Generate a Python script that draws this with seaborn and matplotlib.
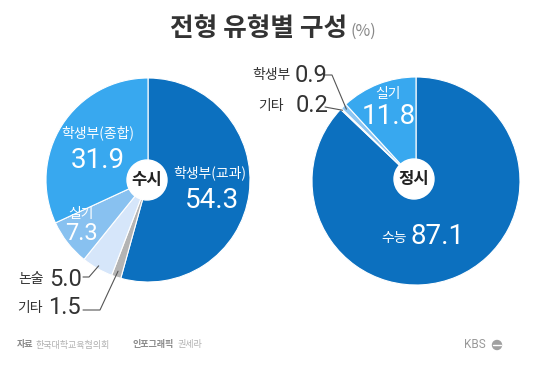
import numpy as np
import seaborn as sns
import matplotlib.pyplot as plt
from matplotlib.patches import Circle

# data
susi_labels = ['학생부(교과)', '기타', '논술', '실기', '학생부(종합)']
susi_values = [54.3, 1.5, 5.0, 7.3, 31.9]
jeongsi_labels = ['수능', '기타', '학생부', '실기']
jeongsi_values = [87.1, 0.2, 0.9, 11.8]

susi_colors = ['#0c70bf', '#b4b4b4', '#d6e6fa', '#88c1f0', '#38a8ef']
jeongsi_colors = ['#0c70bf', '#b4b4b4', '#8cc6f3', '#38a8ef']

sns.set_theme(style='white')
plt.rcParams['font.family'] = ['Noto Sans CJK KR', 'DejaVu Sans']

W, H = 540, 365
fig = plt.figure(figsize=(5.4, 3.65), dpi=100)
ax = fig.add_axes([0, 0, 1, 1])


def Y(y):
    return H - y


NUM = dict(family=['Roboto', 'DejaVu Sans'], fontweight='normal')
ring = dict(edgecolor='white', linewidth=0.8)

left_c, left_r = (148, 180), 102
right_c, right_r = (416, 181), 104

ax.pie(susi_values, colors=susi_colors, startangle=90, counterclock=False,
       center=(left_c[0], Y(left_c[1])), radius=left_r, wedgeprops=ring)
ax.pie(jeongsi_values, colors=jeongsi_colors, startangle=90, counterclock=False,
       center=(right_c[0], Y(right_c[1])), radius=right_r, wedgeprops=ring)

ax.add_patch(Circle((147, Y(180)), 20, color='white', zorder=5))
ax.add_patch(Circle((414, Y(179)), 20, color='white', zorder=5))
ax.text(147, Y(180), '수시', ha='center', va='center', fontsize=12,
        fontweight='bold', color='#222222', zorder=6)
ax.text(414, Y(179), '정시', ha='center', va='center', fontsize=12,
        fontweight='bold', color='#222222', zorder=6)


def wedge_point(values, idx, center, r):
    # compass angle of the middle of wedge idx, clockwise from 12 o'clock
    cum = np.cumsum([0] + list(values))
    frac = (cum[idx] + values[idx] / 2) / sum(values)
    th = 2 * np.pi * frac
    return center[0] + r * np.sin(th), Y(center[1] - r * np.cos(th))


# left pie inside labels
ax.text(210, Y(173), susi_labels[0], ha='center', va='center', fontsize=10, color='white')
ax.text(212, Y(200), f'{susi_values[0]:.1f}', ha='center', va='center', fontsize=20, color='white', **NUM)
ax.text(98, Y(133), susi_labels[4], ha='center', va='center', fontsize=10, color='white')
ax.text(98, Y(161), f'{susi_values[4]:.1f}', ha='center', va='center', fontsize=20, color='white', **NUM)
ax.text(81, Y(214), susi_labels[3], ha='center', va='center', fontsize=10, color='white')
ax.text(81, Y(233), f'{susi_values[3]:.1f}', ha='center', va='center', fontsize=17, color='white', **NUM)

# left pie outside labels
dark = '#333333'
ax.text(44, Y(279), susi_labels[2], ha='right', va='center', fontsize=10, color=dark)
ax.text(49, Y(279), f'{susi_values[2]:.1f}', ha='left', va='center', fontsize=17, color=dark, **NUM)
px, py = wedge_point(susi_values, 2, left_c, left_r - 3)
ax.plot([83, 89, px], [Y(277), Y(277), py], color='#555555', lw=0.8)

ax.text(43, Y(308), susi_labels[1], ha='right', va='center', fontsize=10, color=dark)
ax.text(48, Y(308), f'{susi_values[1]:.1f}', ha='left', va='center', fontsize=17, color=dark, **NUM)
px, py = wedge_point(susi_values, 1, left_c, left_r - 6)
ax.plot([83, 100, px], [Y(310), Y(310), py], color='#555555', lw=0.8)

# right pie inside labels
ax.text(388, Y(94), jeongsi_labels[3], ha='center', va='center', fontsize=10, color='white')
ax.text(389, Y(116), f'{jeongsi_values[3]:.1f}', ha='center', va='center', fontsize=20, color='white', **NUM)
ax.text(407, Y(238), jeongsi_labels[0], ha='right', va='center', fontsize=10, color='white')
ax.text(410, Y(237), f'{jeongsi_values[0]:.1f}', ha='left', va='center', fontsize=20, color='white', **NUM)

# right pie outside labels
ax.text(291, Y(75), jeongsi_labels[2], ha='right', va='center', fontsize=10, color=dark)
ax.text(295, Y(75), f'{jeongsi_values[2]:.1f}', ha='left', va='center', fontsize=17, color=dark, **NUM)
px, py = wedge_point(jeongsi_values, 2, right_c, right_r - 4)
ax.plot([325, 332, px], [Y(75), Y(75), py], color='#555555', lw=0.8)

ax.text(284, Y(106), jeongsi_labels[1], ha='right', va='center', fontsize=10, color=dark)
ax.text(296, Y(106), f'{jeongsi_values[1]:.1f}', ha='left', va='center', fontsize=17, color=dark, **NUM)
px, py = wedge_point(jeongsi_values, 1, right_c, right_r - 2)
ax.plot([325, px], [Y(107), py], color='#555555', lw=0.8)

# title
ax.text(347, Y(29), '전형 유형별 구성', ha='right', va='center', fontsize=18.5,
        fontweight='bold', color='#333333')
ax.text(350, Y(31), '(%)', ha='left', va='center', fontsize=11.5, color='#888888')

# footer
ax.text(17, Y(345), '자료', ha='left', va='center', fontsize=6.5, fontweight='bold', color='#8a8a8a')
ax.text(35, Y(345), '한국대학교육협의회', ha='left', va='center', fontsize=6.5, color='#b0b0b0')
ax.text(133, Y(345), '인포그래픽', ha='left', va='center', fontsize=6.5, fontweight='bold', color='#8a8a8a')
ax.text(178, Y(345), '권세라', ha='left', va='center', fontsize=6.5, color='#b0b0b0')
ax.text(464, Y(345), 'KBS', ha='left', va='center', fontsize=8.5, color='#999999',
        family=['Roboto', 'DejaVu Sans'])
ax.add_patch(Circle((497, Y(345)), 4.5, color='#a0a0a0'))
ax.plot([493, 501], [Y(345), Y(345)], color='white', lw=1)

ax.set_xlim(0, W)
ax.set_ylim(0, H)
ax.set_aspect('equal')
ax.axis('off')

fig.savefig('out.png', dpi=100, facecolor='white')
